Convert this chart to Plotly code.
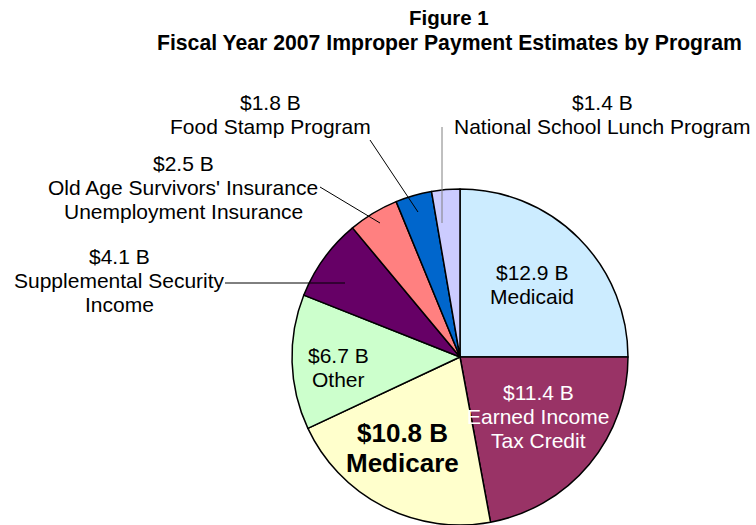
import plotly.graph_objects as go

programs = ["Medicaid", "Earned Income<br>Tax Credit", "Medicare", "Other",
            "Supplemental Security<br>Income",
            "Old Age Survivors' Insurance<br>Unemployment Insurance",
            "Food Stamp Program", "National School Lunch Program"]
estimates_b = [12.9, 11.4, 10.8, 6.7, 4.1, 2.5, 1.8, 1.4]
colors = ["#CCECFF", "#993366", "#FFFFCC", "#CCFFCC", "#660066", "#FF8080", "#0066CC", "#CCCCFF"]

W, H = 756, 525
FONT = "Liberation Sans, Arial, sans-serif"

def px(x, y):
    return x / W, 1 - y / H

fig = go.Figure()
fig.add_trace(go.Pie(
    labels=[p.replace("<br>", " ") for p in programs], values=estimates_b,
    sort=False, direction="clockwise", rotation=0,
    marker=dict(colors=colors, line=dict(color="black", width=1.5)),
    textinfo="none", hoverinfo="skip", showlegend=False,
    domain=dict(x=[292 / W, 628 / W], y=[0, 336 / H]),
))

# label anchor (center x, first line y), font size, bold, color
label_pos = [
    (532, 272, 21, False, "#000000"),
    (538, 392, 21, False, "#FFFFFF"),
    (402, 433, 26, True, "#000000"),
    (338, 355, 21, False, "#000000"),
    (119, 256, 21, False, "#000000"),
    (183, 163, 21, False, "#000000"),
    (270, 102, 21, False, "#000000"),
    (602, 102, 21, False, "#000000"),
]
line_gap = {21: 24, 26: 30}

annotations = []
for name, val, (cx, cy, fs, bold, col) in zip(programs, estimates_b, label_pos):
    lines = [f"${val} B"] + name.split("<br>")
    for i, t in enumerate(lines):
        x, y = px(cx, cy + i * line_gap[fs])
        txt = f"<b>{t}</b>" if bold else t
        annotations.append(dict(x=x, y=y, xref="paper", yref="paper", text=txt,
                                showarrow=False, xanchor="center", yanchor="middle",
                                font=dict(family=FONT, size=fs, color=col)))

annotations.append(dict(x=px(449, 18)[0], y=px(449, 18)[1], xref="paper", yref="paper",
                        text="<b>Figure 1</b>", showarrow=False, xanchor="center", yanchor="middle",
                        font=dict(family=FONT, size=20.5, color="black")))
annotations.append(dict(x=px(449, 43)[0], y=px(449, 43)[1], xref="paper", yref="paper",
                        text="<b>Fiscal Year 2007 Improper Payment Estimates by Program</b>",
                        showarrow=False, xanchor="center", yanchor="middle",
                        font=dict(family=FONT, size=21.2, color="black")))

leaders = [
    ((442, 127), (442, 223), "#808080"),
    ((370, 140), (418, 212), "#000000"),
    ((320, 187), (380, 223), "#000000"),
    ((225, 283), (345, 283), "#000000"),
]
shapes = []
for (x0, y0), (x1, y1), c in leaders:
    a, b = px(x0, y0)
    cc, d = px(x1, y1)
    shapes.append(dict(type="line", xref="paper", yref="paper", x0=a, y0=b, x1=cc, y1=d,
                       line=dict(color=c, width=1)))

fig.update_layout(
    width=W, height=H, margin=dict(l=0, r=0, t=0, b=0),
    paper_bgcolor="white", plot_bgcolor="white",
    annotations=annotations, shapes=shapes,
)
fig.write_html("out.html", config={"displayModeBar": False},
               post_script="document.body.style.margin='0';document.body.style.overflow='hidden';")
